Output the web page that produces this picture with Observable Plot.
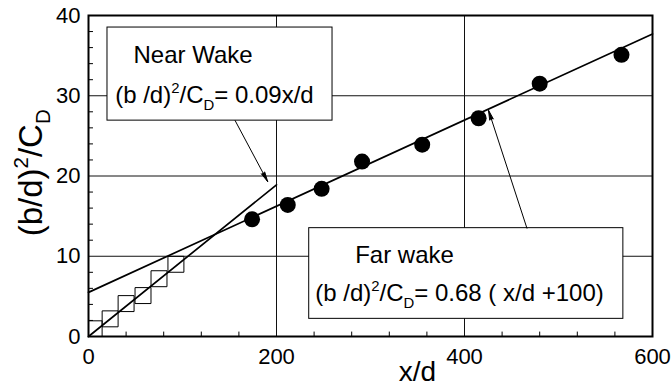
<!DOCTYPE html>
<html>
<head>
<meta charset="utf-8">
<script src="https://cdn.jsdelivr.net/npm/d3@7"></script>
<script src="https://cdn.jsdelivr.net/npm/@observablehq/plot@0.6"></script>
<style>
  html, body { margin: 0; padding: 0; background: #fff; }
  svg { display: block; }
</style>
</head>
<body>
<div id="chart"></div>
<script>
// ---- data ----
const farWakeX = [174, 212, 248, 291, 355, 415, 480, 567];
const farWakeY = [14.6, 16.4, 18.4, 21.8, 23.9, 27.2, 31.5, 35.1];
const nearWakeX = [6, 23, 40, 58, 75, 93];
const nearWakeY = [0.96, 2.2, 4.1, 5.1, 7.2, 9.0];
const nearFitX = [0, 200];
const nearFitY = [0, 18.9];
const farFitX = [0, 600];
const farFitY = [5.5, 37.7];
const xTickLabels = [0, 200, 400, 600];
const yTickLabels = [0, 10, 20, 30, 40];
const xGrid = [200, 400];
const yGrid = [10, 20, 30];
const xMinor = d3.range(40, 600, 40).filter(v => v % 200 !== 0);
const yMinor = d3.range(2, 40, 2).filter(v => v % 10 !== 0);
const xLabel = "x/d";
const yLabel = "(b/d)^2/C_D";
const nearTitle = "Near Wake";
const nearEq = "(b /d)^2/C_D= 0.09x/d";
const farTitle = "Far wake";
const farEq = "(b /d)^2/C_D= 0.68 ( x/d +100)";

// annotation placement (data units)
const boxes = [
  {x1: 20.2, x2: 259.6, y1: 26.9, y2: 38.5},
  {x1: 234.8, x2: 569, y1: 2.2, y2: 13.5}
];
const arrows = [
  {x1: 156, y1: 26.9, x2: 190.6, y2: 19.3},
  {x1: 466.4, y1: 13.5, x2: 425.5, y2: 28.2}
];
const notes = [
  {x: 47.9, y: 34.1, text: nearTitle},
  {x: 28.4, y: 29.06, text: nearEq},
  {x: 283.7, y: 9.1, text: farTitle},
  {x: 241.2, y: 4.37, text: farEq}
];

const pts = farWakeX.map((x, i) => ({x, y: farWakeY[i]}));
const sq = nearWakeX.map((x, i) => ({x, y: nearWakeY[i]}));
const nearFit = nearFitX.map((x, i) => ({x, y: nearFitY[i]}));
const farFit = farFitX.map((x, i) => ({x, y: farFitY[i]}));

const FONT = "'Liberation Sans', Arial, Helvetica, sans-serif";

const chart = Plot.plot({
  width: 672,
  height: 387,
  marginLeft: 88,
  marginRight: 20,
  marginTop: 15,
  marginBottom: 51,
  style: {fontFamily: FONT, fontSize: "22px", color: "#000", background: "#fff", overflow: "visible"},
  x: {domain: [0, 600]},
  y: {domain: [0, 40]},
  marks: [
    Plot.ruleY(yGrid, {stroke: "#111", strokeWidth: 1}),
    Plot.ruleX(xGrid, {stroke: "#111", strokeWidth: 1}),
    Plot.ruleX(xMinor, {x: d => d, y1: 0, y2: 0.55, stroke: "#000", strokeWidth: 1}),
    Plot.ruleY(yMinor, {y: d => d, x1: 0, x2: 5.3, stroke: "#000", strokeWidth: 1}),
    Plot.line(nearFit, {x: "x", y: "y", stroke: "#000", strokeWidth: 1.7}),
    Plot.line(farFit, {x: "x", y: "y", stroke: "#000", strokeWidth: 1.7}),
    Plot.dot(sq, {x: "x", y: "y", symbol: "square", r: 9, stroke: "#000", fill: "none", strokeWidth: 1, clip: true}),
    Plot.dot(pts, {x: "x", y: "y", r: 8, fill: "#000", stroke: "none"}),
    Plot.rect(boxes, {x1: "x1", x2: "x2", y1: "y1", y2: "y2", fill: "#fff", stroke: "#000", strokeWidth: 1}),
    Plot.arrow(arrows, {x1: "x1", y1: "y1", x2: "x2", y2: "y2", stroke: "#000", fill: "#000", strokeWidth: 1, headLength: 15, headAngle: 22}),
    Plot.text(notes, {x: "x", y: "y", text: "text", textAnchor: "start", lineAnchor: "bottom", fontSize: 24, fill: "#000"}),
    Plot.frame({stroke: "#000", strokeWidth: 2}),
    Plot.axisX(xTickLabels, {tickSize: 0, tickPadding: 12, fontSize: 22, label: null, fill: "#000"}),
    Plot.axisY(yTickLabels, {tickSize: 0, tickPadding: 8, fontSize: 22, label: null, fill: "#000"}),
    Plot.text([xLabel], {x: 350, y: -5.5, text: d => d, textAnchor: "middle", lineAnchor: "bottom", fontSize: 28, fill: "#000"}),
    Plot.text([yLabel], {x: -50, y: 20.4, text: d => d, rotate: -90, textAnchor: "middle", lineAnchor: "bottom", fontSize: 33, fill: "#000"})
  ]
});

document.getElementById("chart").appendChild(chart);

// turn ^x and _x markers into superscript / subscript tspans
const NS = "http://www.w3.org/2000/svg";
chart.querySelectorAll("text").forEach(el => {
  const s = el.textContent;
  if (!/[\^_]/.test(s) || el.querySelector("tspan")) return;
  const fs = parseFloat(getComputedStyle(el).fontSize) || 22;
  while (el.firstChild) el.removeChild(el.firstChild);
  let cur = 0, last = 0, m;
  const re = /([\^_])(\w)/g;
  const add = (txt, target, small) => {
    const t = document.createElementNS(NS, "tspan");
    t.textContent = txt;
    const dy = target - cur;
    if (dy) t.setAttribute("dy", dy.toFixed(2));
    cur = target;
    if (small) t.setAttribute("font-size", (fs * 0.62).toFixed(1));
    el.appendChild(t);
  };
  while ((m = re.exec(s))) {
    if (m.index > last) add(s.slice(last, m.index), 0, false);
    add(m[2], m[1] === "^" ? -0.42 * fs : 0.26 * fs, true);
    last = m.index + m[0].length;
  }
  if (last < s.length) add(s.slice(last), 0, false);
});
</script>
</body>
</html>
